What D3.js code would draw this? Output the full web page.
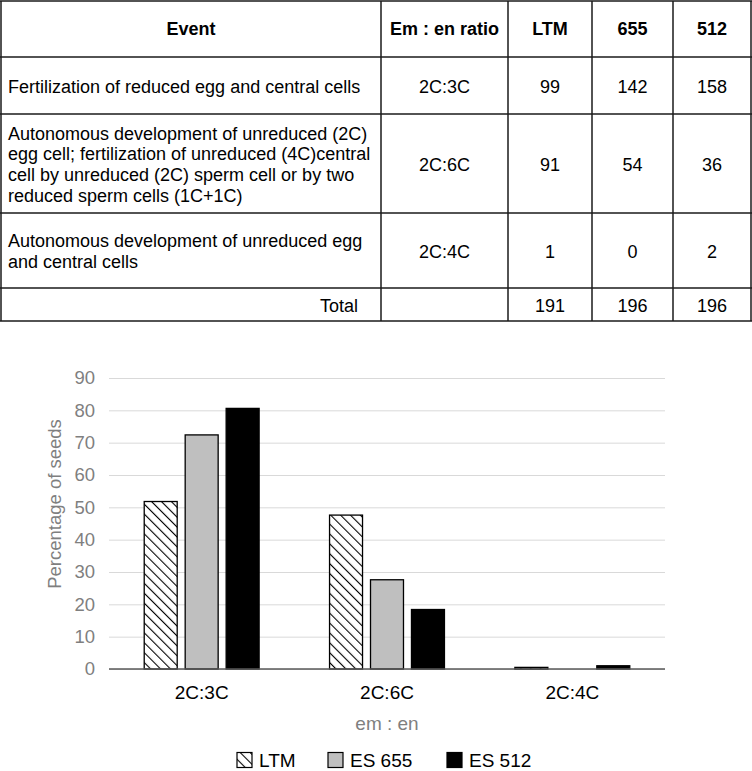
<!DOCTYPE html>
<html>
<head>
<meta charset="utf-8">
<script src="https://cdn.jsdelivr.net/npm/d3@7"></script>
<style>
  body { margin: 0; background: #fff; }
  svg { display: block; font-family: "Liberation Sans", Arial, sans-serif; }
</style>
</head>
<body>
<svg width="752" height="771"></svg>
<script>
// table data
const headers = ['Event', 'Em : en ratio', 'LTM', '655', '512'];
const events = [
  ['Fertilization of reduced egg and central cells'],
  ['Autonomous development of unreduced (2C)', 'egg cell; fertilization of unreduced (4C)central',
   'cell by unreduced (2C) sperm cell or by two', 'reduced sperm cells (1C+1C)'],
  ['Autonomous development of unreduced egg', 'and central cells']
];
const ratios = ['2C:3C', '2C:6C', '2C:4C'];
const ltmCounts = [99, 91, 1];
const es655Counts = [142, 54, 0];
const es512Counts = [158, 36, 2];
const totals = [191, 196, 196];

// chart data (percentage of seeds)
const categories = ['2C:3C', '2C:6C', '2C:4C'];
const seriesNames = ['LTM', 'ES 655', 'ES 512'];
const ltmPct = [51.8, 47.6, 0.5];
const es655Pct = [72.4, 27.6, 0];
const es512Pct = [80.6, 18.4, 1.0];
const yTicks = [0, 10, 20, 30, 40, 50, 60, 70, 80, 90];

const svg = d3.select('svg');

const defs = svg.append('defs');
defs.append('pattern')
    .attr('id', 'hatch')
    .attr('patternUnits', 'userSpaceOnUse')
    .attr('width', 7)
    .attr('height', 7)
    .attr('patternTransform', 'rotate(-45)')
  .call(p => {
    p.append('rect').attr('width', 7).attr('height', 7).attr('fill', '#fff');
    p.append('line')
      .attr('x1', 0).attr('y1', 0).attr('x2', 0).attr('y2', 7)
      .attr('stroke', '#000').attr('stroke-width', 2.2);
  });

// ---- table ----
const colX = [1, 381, 508, 592, 673, 751];
const rowY = [1, 57, 114, 213, 288, 321];
const tbl = svg.append('g');
const fs = 18;

const bodyRows = events.map((ev, i) => [ev, ratios[i], ltmCounts[i], es655Counts[i], es512Counts[i]]);

tbl.selectAll('.hline').data(rowY).join('line')
    .attr('x1', colX[0] - 1).attr('x2', colX[5] + 1)
    .attr('y1', d => d).attr('y2', d => d)
    .attr('stroke', '#1a1a1a').attr('stroke-width', 1.5);
tbl.selectAll('.vline').data(colX).join('line')
    .attr('x1', d => d).attr('x2', d => d)
    .attr('y1', rowY[0]).attr('y2', rowY[5])
    .attr('stroke', '#1a1a1a').attr('stroke-width', 1.5);

const colMid = i => (colX[i] + colX[i + 1]) / 2;
const rowMid = i => (rowY[i] + rowY[i + 1]) / 2;

tbl.selectAll('.hdr').data(headers).join('text')
    .attr('x', (d, i) => colMid(i))
    .attr('y', rowMid(0))
    .attr('dy', '0.35em')
    .attr('text-anchor', 'middle')
    .attr('font-weight', 'bold')
    .attr('font-size', fs)
    .text(d => d);

const lineH = 20.7;
bodyRows.forEach((row, r) => {
  const cy = rowMid(r + 1) + 1;
  const lines = row[0];
  tbl.append('g').selectAll('text').data(lines).join('text')
      .attr('x', 8)
      .attr('y', (d, k) => cy + (k - (lines.length - 1) / 2) * lineH)
      .attr('dy', '0.35em')
      .attr('font-size', fs)
      .text(d => d);
  tbl.append('g').selectAll('text').data(row.slice(1)).join('text')
      .attr('x', (d, k) => colMid(k + 1))
      .attr('y', cy)
      .attr('dy', '0.35em')
      .attr('text-anchor', 'middle')
      .attr('font-size', fs)
      .text(d => d);
});

tbl.append('text')
    .attr('x', 358).attr('y', rowMid(4) + 1).attr('dy', '0.35em')
    .attr('text-anchor', 'end').attr('font-size', fs)
    .text('Total');
tbl.selectAll('.tot').data(totals).join('text')
    .attr('x', (d, i) => colMid(i + 2))
    .attr('y', rowMid(4) + 1).attr('dy', '0.35em')
    .attr('text-anchor', 'middle').attr('font-size', fs)
    .text(d => d);

// ---- chart ----
const margin = { left: 109, right: 665, top: 378, bottom: 669 };
const seriesVals = [ltmPct, es655Pct, es512Pct];
const fills = ['url(#hatch)', '#bfbfbf', '#000'];

const yScale = d3.scaleLinear().domain([0, 90]).range([margin.bottom, margin.top]);
const x0 = d3.scaleBand().domain(categories).range([margin.left, margin.right])
    .paddingInner(0.38).paddingOuter(0.19);
const x1 = d3.scaleBand().domain(seriesNames).range([0, x0.bandwidth()]).paddingInner(0.195);

const yAxis = d3.axisLeft(yScale).tickValues(yTicks)
    .tickSize(-(margin.right - margin.left)).tickPadding(14);
const yAxisG = svg.append('g')
    .attr('transform', `translate(${margin.left},0)`)
    .call(yAxis);
yAxisG.select('.domain').remove();
yAxisG.selectAll('.tick line').attr('stroke', '#d9d9d9').attr('stroke-width', 1);
yAxisG.selectAll('.tick text')
    .attr('fill', '#7f7f7f').attr('font-size', 18.5)
    .attr('font-family', '"Liberation Sans", Arial, sans-serif');

const groups = svg.append('g').selectAll('g').data(categories).join('g')
    .attr('transform', d => `translate(${x0(d)},0)`);

groups.selectAll('rect')
  .data((c, ci) => seriesNames.map((s, si) => ({ s, si, v: seriesVals[si][ci] })))
  .join('rect')
    .attr('x', d => x1(d.s))
    .attr('width', x1.bandwidth())
    .attr('y', d => yScale(d.v))
    .attr('height', d => yScale(0) - yScale(d.v))
    .attr('fill', d => fills[d.si])
    .attr('stroke', d => d.v > 0 ? '#000' : 'none')
    .attr('stroke-width', 1.3);

const xAxis = d3.axisBottom(x0).tickSize(0).tickPadding(17);
const xAxisG = svg.append('g')
    .attr('transform', `translate(0,${margin.bottom})`)
    .call(xAxis);
xAxisG.select('.domain').attr('stroke', '#595959').attr('stroke-width', 1.5)
    .attr('d', `M${margin.left},0H${margin.right}`);
xAxisG.selectAll('.tick text')
    .attr('fill', '#000').attr('font-size', 19)
    .attr('font-family', '"Liberation Sans", Arial, sans-serif');

svg.append('text')
    .attr('transform', `translate(55,504) rotate(-90)`)
    .attr('text-anchor', 'middle').attr('dy', '0.35em')
    .attr('fill', '#7f7f7f').attr('font-size', 18.5)
    .text('Percentage of seeds');

svg.append('text')
    .attr('x', (margin.left + margin.right) / 2).attr('y', 723).attr('dy', '0.35em')
    .attr('text-anchor', 'middle')
    .attr('fill', '#7f7f7f').attr('font-size', 19)
    .text('em : en');

// legend
const legendX = [237, 328, 447];
const legend = svg.append('g').selectAll('g').data(seriesNames).join('g')
    .attr('transform', (d, i) => `translate(${legendX[i]},760)`);
legend.append('rect')
    .attr('x', 0).attr('y', -7.5).attr('width', 15).attr('height', 15)
    .attr('fill', (d, i) => fills[i])
    .attr('stroke', '#000').attr('stroke-width', 1.2);
legend.append('text')
    .attr('x', 22).attr('dy', '0.35em')
    .attr('font-size', 19)
    .text(d => d);
</script>
</body>
</html>
